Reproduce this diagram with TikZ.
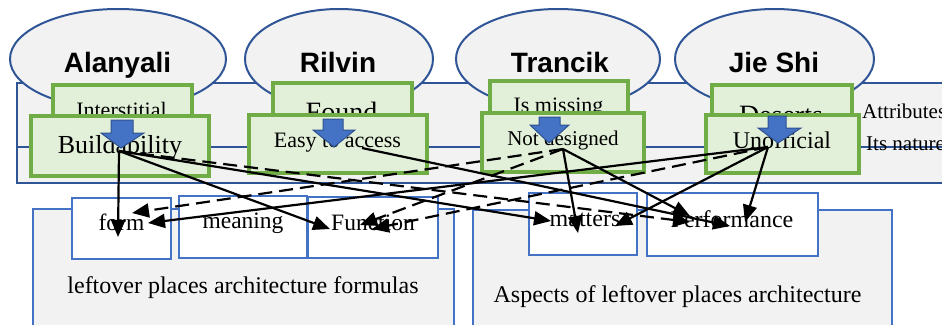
\documentclass[tikz,border=0pt]{standalone}
\usepackage{fontspec}
\setmainfont{Liberation Serif}
\newfontfamily\namefont{Liberation Sans}
\usetikzlibrary{shapes.geometric,arrows.meta}
\definecolor{dblue}{HTML}{2F5597}
\definecolor{mblue}{HTML}{4472C4}
\definecolor{ablue}{HTML}{2F528F}
\definecolor{lgray}{HTML}{F2F2F2}
\definecolor{gfill}{HTML}{E2F0D9}
\definecolor{gline}{HTML}{70AD47}
\newcommand{\fsz}[1]{\fontsize{#1}{#1}\selectfont}
\begin{document}
\begin{tikzpicture}[x=1pt,y=-1pt,
  oval/.style={ellipse, draw=dblue, fill=lgray, line width=2pt, inner sep=0pt},
  bandbox/.style={rectangle, draw=dblue, fill=lgray, line width=2pt, inner sep=0pt},
  gbox/.style={rectangle, draw=gline, fill=gfill, line width=3.4pt, inner sep=0pt},
  wbox/.style={rectangle, draw=mblue, fill=white, line width=2.2pt, inner sep=0pt},
  bigbox/.style={rectangle, draw=mblue, fill=lgray, line width=2.2pt, inner sep=0pt},
  txt/.style={anchor=base, inner sep=0pt},
  conn/.style={line width=2.2pt, -{Triangle[length=17pt,width=14pt]}},
  dconn/.style={conn, dash pattern=on 14pt off 7pt},
  barrow/.style={fill=mblue, draw=ablue, line width=1pt},
]
\useasboundingbox[fill=white] (0,0) rectangle (942,324);

% band
\node[bandbox, minimum width=943pt, minimum height=64pt] (bandtop) at (488.5,115) {};
\node[bandbox, minimum width=943pt, minimum height=36pt] (bandbot) at (488.5,165) {};

% ellipses
\node[oval, minimum width=216pt, minimum height=100pt] (eA) at (118,59) {};
\node[oval, minimum width=188pt, minimum height=100pt] (eR) at (339,59) {};
\node[oval, minimum width=204pt, minimum height=100pt] (eT) at (558,59) {};
\node[oval, minimum width=199pt, minimum height=100pt] (eJ) at (774.5,59) {};
\node[txt, font=\namefont\bfseries\fsz{28}] (nA) at (117.5,72) {Alanyali};
\node[txt, font=\namefont\bfseries\fsz{28}] (nR) at (338,72) {Rilvin};
\node[txt, font=\namefont\bfseries\fsz{28}] (nT) at (560,72) {Trancik};
\node[txt, font=\namefont\bfseries\fsz{28}] (nJ) at (774,72) {Jie Shi};

% right side texts (cut by the right edge, as in the reference)
\node[txt, anchor=base west, font=\fsz{21}] (attr) at (862,118) {Attributes};
\node[txt, anchor=base west, font=\fsz{21}] (natr) at (866,150) {Its nature};

% bottom boxes
\node[bigbox, minimum width=421pt, minimum height=132pt] (bigL) at (243.5,275) {};
\node[bigbox, minimum width=419pt, minimum height=132pt] (bigR) at (682.5,276) {};
\node[wbox, minimum width=99pt, minimum height=61pt] (bform) at (121.5,228.5) {};
\node[wbox, minimum width=128pt, minimum height=62pt] (bmean) at (243,227) {};
\node[wbox, minimum width=130pt, minimum height=61pt] (bfunc) at (373,227.5) {};
\node[wbox, minimum width=108pt, minimum height=62pt] (bmatt) at (583,224) {};
\node[wbox, minimum width=171pt, minimum height=63pt] (bperf) at (732.5,224.5) {};
\node[txt, font=\fsz{23.5}] (tform) at (121.5,230) {form};
\node[txt, font=\fsz{23.5}] (tmean) at (243,228) {meaning};
\node[txt, font=\fsz{23.5}] (tfunc) at (373,230) {Function};
\node[txt, font=\fsz{24}] (tmatt) at (585,226) {matters};
\node[txt, font=\fsz{24}] (tperf) at (732,227) {Performance};
\node[txt, font=\fsz{24}] (tleft) at (243,293) {leftover places architecture formulas};
\node[txt, font=\fsz{24}] (tasp) at (677.5,302) {Aspects of leftover places architecture};

% green back boxes
\node[gbox, minimum width=139pt, minimum height=40pt] (gIn) at (122.5,105) {};
\node[txt, font=\fsz{22}] (tIn) at (121.5,117) {Interstitial};
\node[gbox, minimum width=139pt, minimum height=42pt] (gFo) at (342.5,104) {};
\node[txt, font=\fsz{28}] (tFo) at (341.5,121) {Found};
\node[gbox, minimum width=138pt, minimum height=42pt] (gIs) at (559,102) {};
\node[txt, font=\fsz{22}] (tIs) at (558.5,112) {Is missing};
\node[gbox, minimum width=140pt, minimum height=40pt] (gDe) at (782,105) {};
\node[txt, font=\fsz{28}] (tDe) at (781,124) {Deserts};

% green front boxes
\node[gbox, minimum width=178pt, minimum height=60pt] (gBu) at (120,146) {};
\node[txt, font=\fsz{26}] (tBu) at (120,153) {Buildability};
\node[gbox, minimum width=178pt, minimum height=58pt] (gEa) at (338,144) {};
\node[txt, font=\fsz{22}] (tEa) at (337.5,147) {Easy to access};
\node[gbox, minimum width=162pt, minimum height=59pt] (gNd) at (563,142.5) {};
\node[txt, font=\fsz{21}] (tNd) at (563,145) {Not designed};
\node[gbox, minimum width=153pt, minimum height=58pt] (gUn) at (782.5,144) {};
\node[txt, font=\fsz{24}] (tUn) at (782,148) {Unofficial};

% connector points
\coordinate (sB) at (119,151);
\coordinate (sE) at (362,148);
\coordinate (sN) at (563,149);
\coordinate (sU) at (768,147);
\coordinate (pBform) at (118,237);
\coordinate (pBfun) at (330,229);
\coordinate (pBmat) at (551,221);
\coordinate (pBperf) at (690,222);
\coordinate (pEperf) at (730,226);
\coordinate (pNform) at (132,213);
\coordinate (pNfun) at (360,225);
\coordinate (pNmat) at (578,233);
\coordinate (pNperf) at (690,216);
\coordinate (pUform) at (148,223);
\coordinate (pUfun) at (372,229);
\coordinate (pUmat) at (615,226);
\coordinate (pUperf) at (745,222);

\draw[conn] (sB) -- (pBform);
\draw[conn] (sB) -- (pBfun);
\draw[conn] (sB) -- (pBmat);
\draw[dconn] (sB) -- (pBperf);
\draw[conn] (sE) -- (pEperf);
\draw[dconn] (sN) -- (pNform);
\draw[dconn] (sN) -- (pNfun);
\draw[conn] (sN) -- (pNmat);
\draw[conn] (sN) -- (pNperf);
\draw[conn] (sU) -- (pUform);
\draw[dconn] (sU) -- (pUfun);
\draw[conn] (sU) -- (pUmat);
\draw[conn] (sU) -- (pUperf);

% blue block arrows
\draw[barrow] (111,120) -- (133,120) -- (133,133) -- (144,133) -- (121,148) -- (101,133) -- (111,133) -- cycle;
\draw[barrow] (323,119) -- (343,119) -- (343,130) -- (355,130) -- (334,147) -- (313,130) -- (323,130) -- cycle;
\draw[barrow] (539,117) -- (560,117) -- (560,125) -- (569,125) -- (549,143) -- (530,125) -- (539,125) -- cycle;
\draw[barrow] (768,116) -- (786,116) -- (786,128) -- (801,128) -- (778,143) -- (758,128) -- (768,128) -- cycle;
\end{tikzpicture}
\end{document}
